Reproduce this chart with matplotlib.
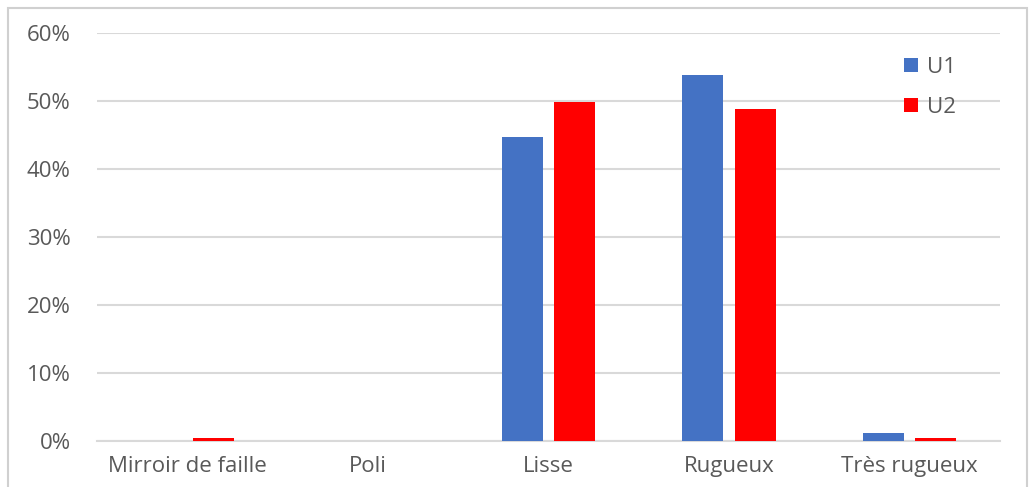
import matplotlib
matplotlib.use('Agg')
import matplotlib.pyplot as plt
import numpy as np
from matplotlib.patches import Rectangle
from matplotlib.ticker import PercentFormatter

categories = ['Mirroir de faille', 'Poli', 'Lisse', 'Rugueux', 'Très rugueux']
u1 = [0.0, 0.0, 44.7, 53.9, 1.2]
u2 = [0.4, 0.0, 49.9, 48.9, 0.4]
yticks = [0, 10, 20, 30, 40, 50, 60]

plt.rcParams['font.family'] = ['Open Sans', 'DejaVu Sans']
text_color = '#595959'
grid_color = '#d9d9d9'
fs = 16

fig = plt.figure(figsize=(10.31, 4.87), dpi=100)
ax = fig.add_axes([0.0941, 0.0945, 0.8759, 0.8375])

x = np.arange(len(categories))
w = 0.227
off = 0.145
ax.bar(x - off, u1, width=w, color='#4472c4', label='U1', zorder=3)
ax.bar(x + off, u2, width=w, color='#ff0000', label='U2', zorder=3)

ax.set_xlim(-0.5, len(categories) - 0.5)
ax.set_ylim(0, 60)
ax.set_yticks(yticks)
ax.yaxis.set_major_formatter(PercentFormatter(decimals=0))
ax.set_xticks(x)
ax.set_xticklabels(categories)
ax.grid(axis='y', color=grid_color, linewidth=1.5, zorder=0)
for s in ['top', 'right', 'left']:
    ax.spines[s].set_visible(False)
ax.spines['bottom'].set_color(grid_color)
ax.spines['bottom'].set_linewidth(1.5)
ax.tick_params(axis='both', length=0, labelsize=fs, labelcolor=text_color)
ax.tick_params(axis='y', pad=19)
ax.tick_params(axis='x', pad=11)

leg = ax.legend(loc='upper left', bbox_to_anchor=(0.872, 0.99), frameon=False,
                fontsize=fs, labelcolor=text_color, handlelength=0.6,
                handleheight=0.6, handletextpad=0.4, labelspacing=0.85)

fig.patches.append(Rectangle((8 / 1031, -0.05), 1019 / 1031, 1 - 8 / 487 + 0.05,
                             transform=fig.transFigure, fill=False,
                             edgecolor='#d0d0d0', linewidth=1.5))

fig.savefig('out.png', dpi=100)
